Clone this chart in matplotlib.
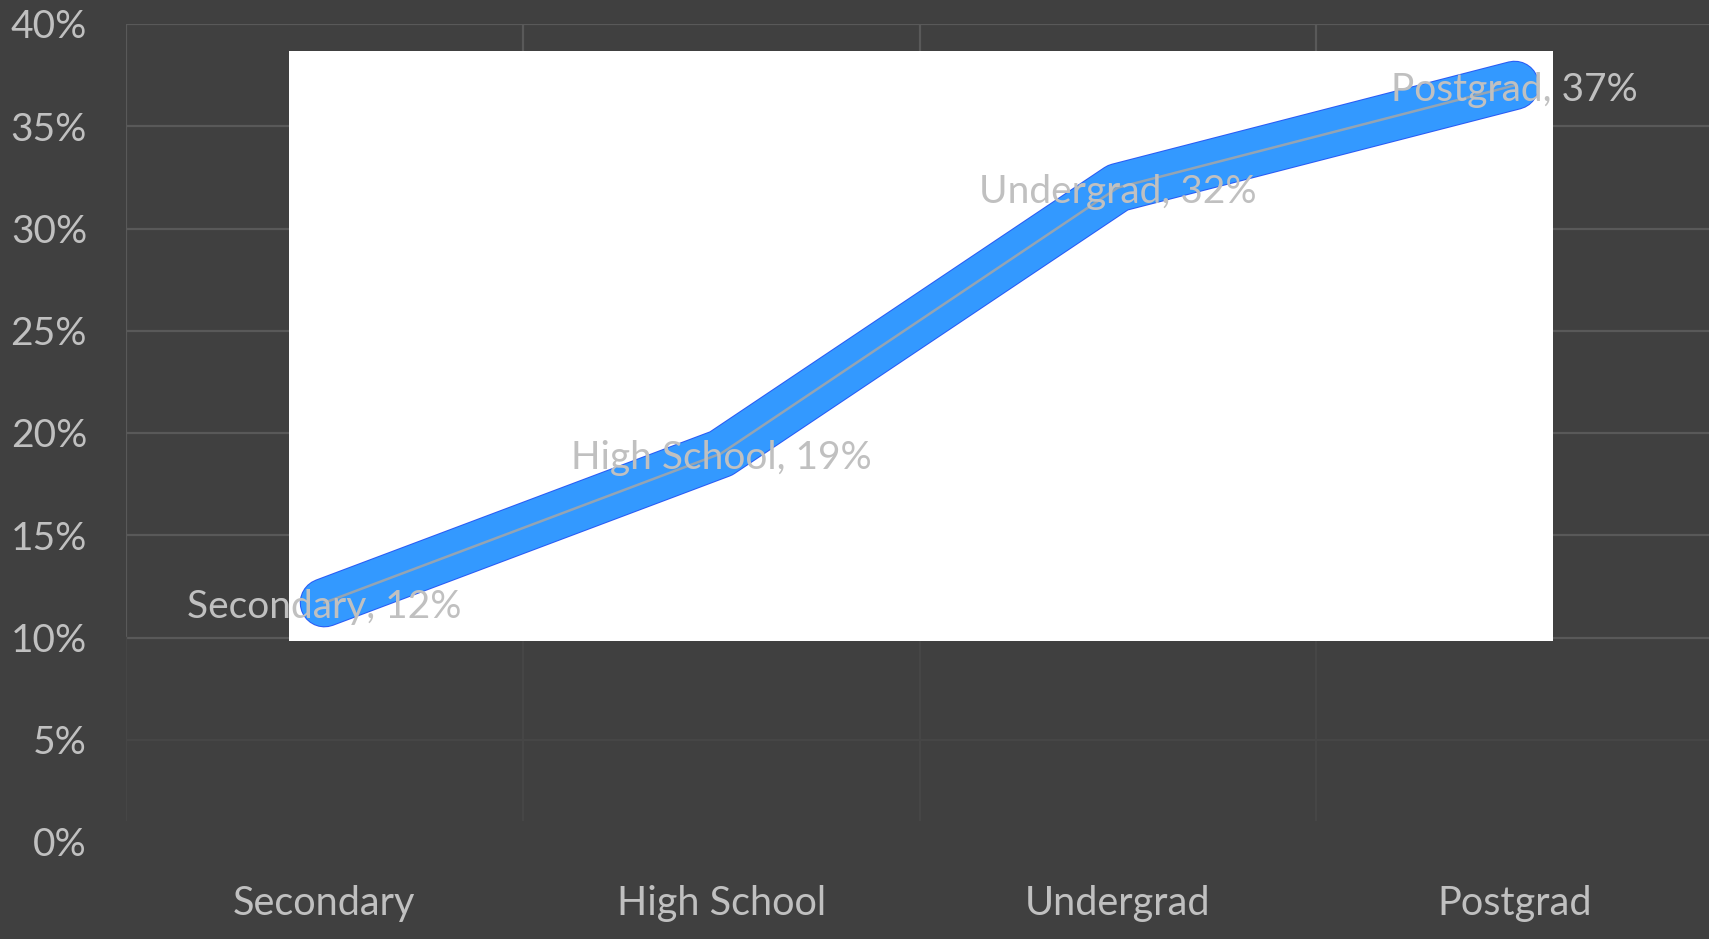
import matplotlib
matplotlib.use("Agg")
import matplotlib.pyplot as plt
from matplotlib.patches import Rectangle
import matplotlib.patheffects as pe

categories = ["Secondary", "High School", "Undergrad", "Postgrad"]
values = [0.117, 0.19, 0.32, 0.37]
yticks = [0.0, 0.05, 0.10, 0.15, 0.20, 0.25, 0.30, 0.35, 0.40]
ytick_labels = ["0%", "5%", "10%", "15%", "20%", "25%", "30%", "35%", "40%"]

BG = "#404040"
TXT = "#C0C0C0"
FONT = "Lato"

fig = plt.figure(figsize=(17.09, 9.39), dpi=100, facecolor=BG)
ax = fig.add_axes([126/1709, 1 - 842/939, 1587/1709, (842 - 24)/939])
ax.set_facecolor(BG)
for s in ax.spines.values():
    s.set_visible(False)

x = list(range(len(categories)))
ax.set_xlim(-0.5, len(categories) - 0.5)
ax.set_ylim(0, 0.40)

# gridlines
for t in yticks:
    if t == 0:
        continue
    col = "#595959" if t >= 0.10 else "#464646"
    ax.axhline(t, color=col, lw=1.6, zorder=0)
for b in [i - 0.5 for i in range(len(categories) + 1)]:
    ax.plot([b, b], [0.10, 0.40], color="#595959", lw=1.6, zorder=0)
    ax.plot([b, b], [0.011, 0.10], color="#464646", lw=1.6, zorder=0)

# white inner panel
ax.add_patch(Rectangle((-0.089, 0.0984), 3.186, 0.2884, facecolor="white",
                       edgecolor="none", zorder=1))

# thick blue line
ax.plot(x, values, color="#3399FF", lw=34, solid_capstyle="round",
        solid_joinstyle="round", zorder=2,
        path_effects=[pe.Stroke(linewidth=35.5, foreground="#2A5BF5"), pe.Normal()])
ax.plot(x, values, color="#A6A6A6", lw=1.8, alpha=0.85, zorder=3)

for xi, cat, v in zip(x, categories, values):
    ax.annotate(f"{cat}, {v:.0%}", xy=(xi, v), xytext=(0, -3),
                textcoords="offset points", ha="center", va="center",
                color=TXT, fontsize=28, family=FONT, zorder=4)

ax.set_xticks(x)
ax.set_xticklabels(categories, family=FONT, fontsize=28.5, color=TXT)
ax.set_yticks(yticks)
ax.set_yticklabels(ytick_labels, family=FONT, fontsize=28, color=TXT)
ax.tick_params(axis="both", length=0)
ax.tick_params(axis="x", pad=31)
ax.tick_params(axis="y", pad=28)

fig.savefig("out.png", dpi=100, facecolor=BG)
